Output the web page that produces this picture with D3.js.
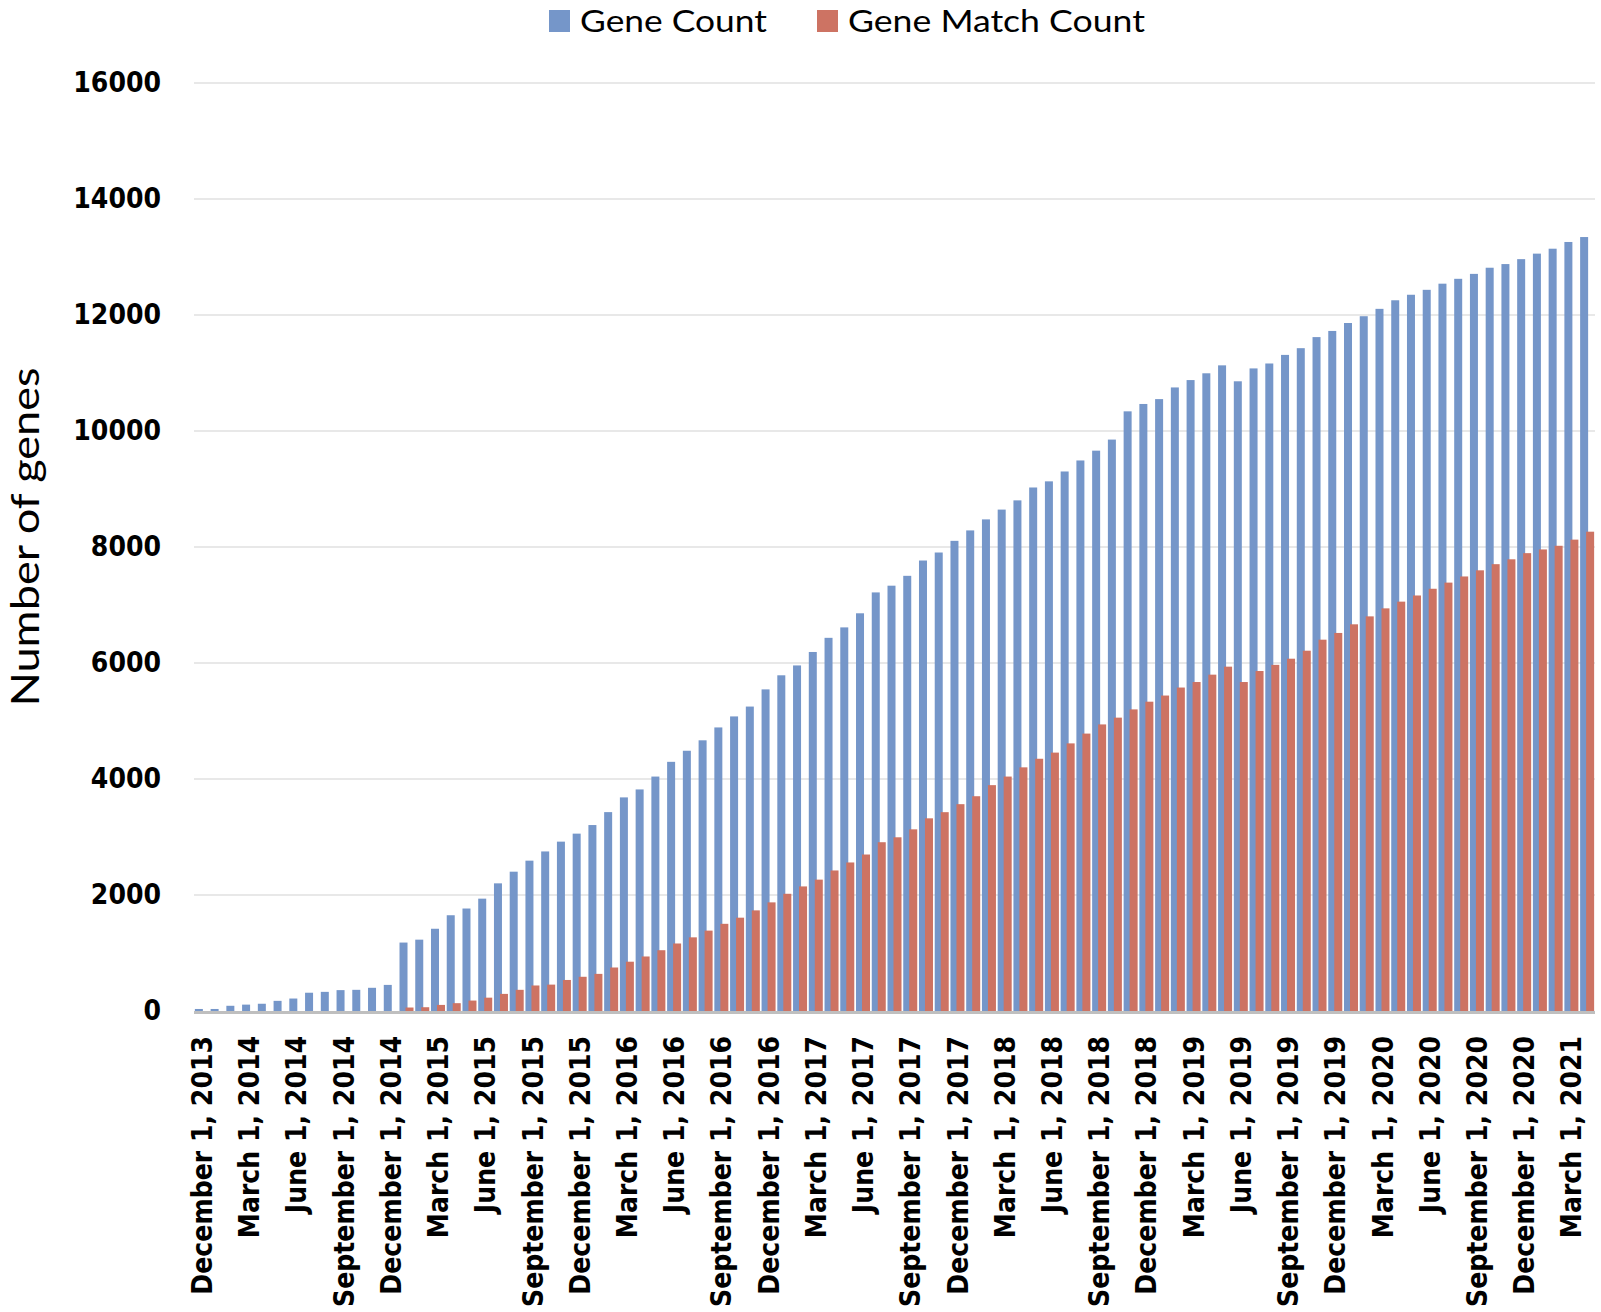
<!DOCTYPE html>
<html><head><meta charset="utf-8">
<script src="https://cdn.jsdelivr.net/npm/d3@7"></script>
<style>body{margin:0;background:#fff}</style>
</head><body><svg id="c" width="1601" height="1312" style="background:#fff"></svg>
<script>
const categories = [
"December 1, 2013","January 1, 2014","February 1, 2014","March 1, 2014","April 1, 2014","May 1, 2014","June 1, 2014","July 1, 2014","August 1, 2014","September 1, 2014","October 1, 2014","November 1, 2014",
"December 1, 2014","January 1, 2015","February 1, 2015","March 1, 2015","April 1, 2015","May 1, 2015","June 1, 2015","July 1, 2015","August 1, 2015","September 1, 2015","October 1, 2015","November 1, 2015",
"December 1, 2015","January 1, 2016","February 1, 2016","March 1, 2016","April 1, 2016","May 1, 2016","June 1, 2016","July 1, 2016","August 1, 2016","September 1, 2016","October 1, 2016","November 1, 2016",
"December 1, 2016","January 1, 2017","February 1, 2017","March 1, 2017","April 1, 2017","May 1, 2017","June 1, 2017","July 1, 2017","August 1, 2017","September 1, 2017","October 1, 2017","November 1, 2017",
"December 1, 2017","January 1, 2018","February 1, 2018","March 1, 2018","April 1, 2018","May 1, 2018","June 1, 2018","July 1, 2018","August 1, 2018","September 1, 2018","October 1, 2018","November 1, 2018",
"December 1, 2018","January 1, 2019","February 1, 2019","March 1, 2019","April 1, 2019","May 1, 2019","June 1, 2019","July 1, 2019","August 1, 2019","September 1, 2019","October 1, 2019","November 1, 2019",
"December 1, 2019","January 1, 2020","February 1, 2020","March 1, 2020","April 1, 2020","May 1, 2020","June 1, 2020","July 1, 2020","August 1, 2020","September 1, 2020","October 1, 2020","November 1, 2020",
"December 1, 2020","January 1, 2021","February 1, 2021","March 1, 2021","April 1, 2021"
];
const geneCount = [
35,35,90,110,125,175,215,315,330,360,365,400,
450,1180,1230,1418,1651,1767,1937,2201,2402,2592,2751,2920,
3058,3206,3429,3683,3820,4042,4296,4487,4667,4889,5079,5249,
5545,5788,5958,6190,6434,6614,6857,7217,7333,7503,7767,7905,
8106,8286,8476,8645,8804,9026,9132,9302,9492,9661,9852,10339,
10466,10550,10751,10878,10995,11132,10857,11079,11164,11312,11428,11619,
11725,11862,11979,12106,12254,12349,12434,12540,12624,12709,12815,12878,
12963,13058,13143,13259,13344
];
const geneMatchCount = [
0,0,0,0,0,0,0,0,0,0,0,0,
0,60,65,105,135,180,230,295,365,440,455,535,
590,640,750,850,940,1048,1164,1270,1386,1503,1609,1735,
1873,2021,2148,2265,2423,2561,2698,2910,2995,3132,3322,3428,
3566,3703,3894,4042,4201,4349,4455,4614,4783,4941,5058,5200,
5333,5439,5577,5672,5799,5937,5672,5862,5968,6074,6212,6402,
6518,6667,6804,6942,7058,7164,7280,7386,7492,7598,7704,7788,
7894,7958,8021,8127,8264
];
const yTicks = [0,2000,4000,6000,8000,10000,12000,14000,16000];
const seriesNames = ["Gene Count","Gene Match Count"];
const seriesColors = ["#7596C9","#CD7363"];
const yTitle = "Number of genes";

const svg = d3.select("#c");
const L = 194, R = 1595, B = 1011, T = 83;
const x = d3.scaleBand().domain(categories).range([L, R]).padding(0);
const y = d3.scaleLinear().domain([0, 16000]).range([B, T]);
const boldFont = "'DejaVu Sans', Verdana, sans-serif";
const lightFont = "Lato, 'Open Sans', sans-serif";

function squeeze(sel, f) {
  sel.each(function () {
    const len = this.getComputedTextLength();
    d3.select(this).attr("textLength", len * f).attr("lengthAdjust", "spacingAndGlyphs");
  });
}

// gridlines
svg.append("g").selectAll("line").data(yTicks.filter(t => t > 0)).join("line")
  .attr("x1", L).attr("x2", R)
  .attr("y1", d => y(d)).attr("y2", d => y(d))
  .attr("stroke", "#e8e8e8").attr("stroke-width", 2);

// y axis labels
const ya = svg.append("g").attr("transform", `translate(${L},0)`)
  .call(d3.axisLeft(y).tickValues(yTicks).tickSize(0).tickPadding(33).tickFormat(d3.format("d")));
ya.select(".domain").remove();
ya.selectAll("text").attr("font-family", boldFont).attr("font-weight", "bold")
  .attr("font-size", 28).attr("fill", "#000");
squeeze(ya.selectAll("text"), 0.9);

// bars
const bw = x.bandwidth();
const data = categories.map((c, i) => ({c, v0: geneCount[i], v1: geneMatchCount[i]}));
svg.append("g").selectAll("rect").data(data).join("rect")
  .attr("x", d => x(d.c) + bw / 2 - 7).attr("width", 8)
  .attr("y", d => y(d.v0)).attr("height", d => B - y(d.v0))
  .attr("fill", seriesColors[0]);
svg.append("g").selectAll("rect").data(data.filter(d => d.v1 > 0)).join("rect")
  .attr("x", d => x(d.c) + bw / 2 - 1).attr("width", 8)
  .attr("y", d => y(d.v1)).attr("height", d => B - y(d.v1))
  .attr("fill", seriesColors[1]);

// x axis
const xa = svg.append("g").attr("transform", `translate(0,${B})`)
  .call(d3.axisBottom(x).tickValues(categories.filter((d, i) => i % 3 === 0)).tickSize(0));
xa.select(".domain").attr("stroke", "#bfbfbf").attr("stroke-width", 3)
  .attr("d", `M${L},1.5H${R}`);
xa.selectAll("text")
  .attr("transform", "rotate(-90)")
  .attr("x", -25).attr("y", 0).attr("dy", "0.36em")
  .attr("text-anchor", "end")
  .attr("font-family", boldFont).attr("font-weight", "bold")
  .attr("font-size", 28).attr("fill", "#000");
squeeze(xa.selectAll("text"), 0.9);

// y title
svg.append("text").attr("transform", "translate(39,537) rotate(-90)")
  .attr("text-anchor", "middle").attr("font-family", lightFont)
  .attr("font-size", 38).attr("fill", "#000")
  .attr("textLength", 339).attr("lengthAdjust", "spacingAndGlyphs")
  .text(yTitle);

// legend
const legend = [
  {name: seriesNames[0], color: seriesColors[0], sx: 549, tx: 580, tw: 187},
  {name: seriesNames[1], color: seriesColors[1], sx: 817, tx: 848, tw: 297}
];
const lg = svg.append("g");
lg.selectAll("rect").data(legend).join("rect")
  .attr("x", d => d.sx).attr("y", 10).attr("width", 21).attr("height", 22)
  .attr("fill", d => d.color);
lg.selectAll("text").data(legend).join("text")
  .attr("x", d => d.tx).attr("y", 32)
  .attr("font-family", lightFont).attr("font-size", 31).attr("fill", "#000")
  .attr("textLength", d => d.tw).attr("lengthAdjust", "spacingAndGlyphs")
  .text(d => d.name);
</script>
</body></html>
